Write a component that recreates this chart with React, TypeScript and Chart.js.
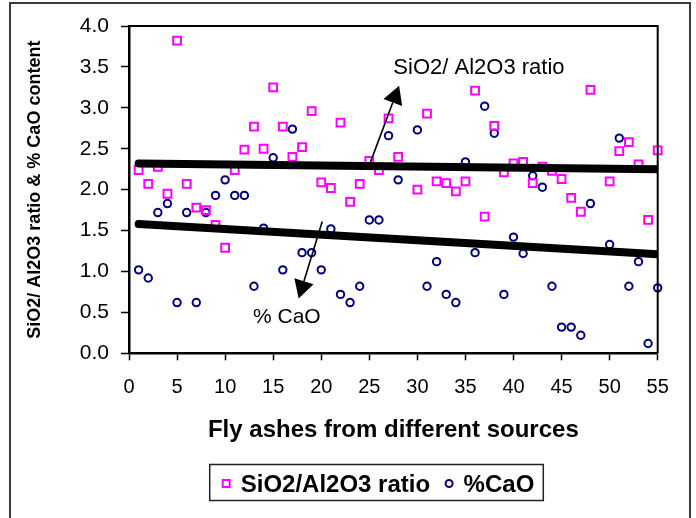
import React, { useEffect, useRef } from "react";
import { Chart, registerables } from "chart.js";

Chart.register(...registerables);

const FONT = "'Liberation Sans', Arial, Helvetica, sans-serif";

// Fly ash source numbers (x categories)
const sourceIds = [
  1, 2, 3, 4, 5, 6, 7, 8, 9, 10, 11, 12, 13, 14, 15, 16, 17, 18, 19, 20,
  21, 22, 23, 24, 25, 26, 27, 28, 29, 30, 31, 32, 33, 34, 35, 36, 37, 38, 39, 40,
  41, 42, 43, 44, 45, 46, 47, 48, 49, 50, 51, 52, 53, 54, 55,
];

// SiO2/Al2O3 ratio per source
const sioRatio = [
  2.24, 2.07, 2.28, 1.95, 3.82, 2.07, 1.78, 1.75, 1.57, 1.29,
  2.24, 2.49, 2.77, 2.5, 3.25, 2.77, 2.4, 2.52, 2.96, 2.09,
  2.02, 2.82, 1.85, 2.07, 2.35, 2.24, 2.87, 2.4, null, 2.0,
  2.93, 2.1, 2.08, 1.98, 2.1, 3.21, 1.67, 2.78, 2.21, 2.32,
  2.34, 2.08, 2.28, 2.23, 2.13, 1.9, 1.73, 3.22, null, 2.1,
  2.47, 2.58, 2.31, 1.63, 2.48,
];

// % CaO per source
const caoPct = [
  1.02, 0.92, 1.72, 1.83, 0.62, 1.72, 0.62, 1.72, 1.93, 2.12,
  1.93, 1.93, 0.82, 1.53, 2.39, 1.02, 2.74, 1.23, 1.23, 1.02,
  1.52, 0.72, 0.62, 0.82, 1.63, 1.63, 2.66, 2.12, null, 2.73,
  0.82, 1.12, 0.72, 0.62, 2.34, 1.23, 3.02, 2.69, 0.72, 1.42,
  1.22, 2.17, 2.03, 0.82, 0.32, 0.32, 0.22, 1.83, null, 1.33,
  2.63, 0.82, 1.12, 0.12, 0.8,
];

// Trend lines (x at ends, y at ends)
const trendX = [1, 55];
const sioTrend = [2.32, 2.25];
const caoTrend = [1.58, 1.21];

// Axis ranges / ticks
const xRange = [0, 55];
const xStep = 5;
const yRange = [0, 4];
const yStep = 0.5;

// Annotations (data coordinates)
const sioArrowFrom = [25.1, 2.33];
const sioArrowTo = [28.1, 3.27];
const sioNote = "SiO2/ Al2O3 ratio";
const sioNoteAt = [27.5, 3.41];
const caoArrowFrom = [20.1, 1.61];
const caoArrowTo = [17.65, 0.67];
const caoNote = "% CaO";
const caoNoteAt = [12.9, 0.37];

const seriesLabels = ["SiO2/Al2O3 ratio", "%CaO"];
const xTitle = "Fly ashes from different sources";
const yTitle = "SiO2/ Al2O3 ratio & % CaO content";

const toPoints = (xs: number[], ys: (number | null)[]) =>
  xs
    .map((x, i) => ({ x, y: ys[i] }))
    .filter((p) => p.y !== null && p.y !== undefined) as { x: number; y: number }[];

const framePlugin = {
  id: "frame",
  beforeDraw(chart: any) {
    const { ctx, width, height } = chart;
    ctx.save();
    ctx.fillStyle = "#ffffff";
    ctx.fillRect(0, 0, width, height);
    ctx.strokeStyle = "#3a3a3a";
    ctx.lineWidth = 2;
    ctx.strokeRect(10, 3, 680, 540);
    ctx.restore();
  },
  afterDraw(chart: any) {
    const { ctx, chartArea } = chart;
    ctx.save();
    ctx.strokeStyle = "#000";
    ctx.lineWidth = 2;
    ctx.beginPath();
    ctx.moveTo(chartArea.left, chartArea.top);
    ctx.lineTo(chartArea.right, chartArea.top);
    ctx.lineTo(chartArea.right, chartArea.bottom);
    ctx.stroke();
    ctx.restore();
  },
};

function drawArrow(ctx: any, x1: number, y1: number, x2: number, y2: number) {
  const ang = Math.atan2(y2 - y1, x2 - x1);
  const len = 18;
  const hw = 10;
  const bx = x2 - len * Math.cos(ang);
  const by = y2 - len * Math.sin(ang);
  ctx.beginPath();
  ctx.moveTo(x1, y1);
  ctx.lineTo(bx, by);
  ctx.stroke();
  ctx.beginPath();
  ctx.moveTo(x2, y2);
  ctx.lineTo(bx + hw * Math.sin(ang), by - hw * Math.cos(ang));
  ctx.lineTo(bx - hw * Math.sin(ang), by + hw * Math.cos(ang));
  ctx.closePath();
  ctx.fill();
}

const notesPlugin = {
  id: "notes",
  afterDatasetsDraw(chart: any) {
    const { ctx } = chart;
    const xs = chart.scales.x;
    const ys = chart.scales.y;
    const px = (p: number[]) => [xs.getPixelForValue(p[0]), ys.getPixelForValue(p[1])];
    ctx.save();
    ctx.strokeStyle = "#000";
    ctx.fillStyle = "#000";
    ctx.lineWidth = 1.6;
    const a1 = px(sioArrowFrom), b1 = px(sioArrowTo);
    drawArrow(ctx, a1[0], a1[1], b1[0], b1[1]);
    const a2 = px(caoArrowFrom), b2 = px(caoArrowTo);
    drawArrow(ctx, a2[0], a2[1], b2[0], b2[1]);
    ctx.font = `22px ${FONT}`;
    ctx.textBaseline = "alphabetic";
    ctx.textAlign = "left";
    const t1 = px(sioNoteAt);
    ctx.fillText(sioNote, t1[0], t1[1]);
    ctx.font = `21px ${FONT}`;
    const t2 = px(caoNoteAt);
    ctx.fillText(caoNote, t2[0], t2[1]);
    ctx.restore();
  },
};

const legendPlugin = {
  id: "boxLegend",
  afterDraw(chart: any) {
    const { ctx } = chart;
    const ds = chart.data.datasets.slice(0, 2);
    ctx.save();
    ctx.font = `bold 24px ${FONT}`;
    const w1 = ctx.measureText(ds[0].label).width;
    const w2 = ctx.measureText(ds[1].label).width;
    const padL = 12, mk = 9, gap = 10, between = 14.5, padR = 9;
    const total = padL + mk + gap + w1 + between + mk + gap + w2 + padR;
    const cx = 376.5;
    const left = cx - total / 2;
    const top = 464.5;
    const h = 36;
    ctx.fillStyle = "#fff";
    ctx.fillRect(left, top, total, h);
    ctx.strokeStyle = "#222";
    ctx.lineWidth = 1.5;
    ctx.strokeRect(left, top, total, h);
    const my = top + 19;
    let x = left + padL;
    ctx.strokeStyle = ds[0].borderColor;
    ctx.lineWidth = 2;
    ctx.strokeRect(x + 1, my - mk / 2 + 1, mk - 2, mk - 2);
    x += mk + gap;
    ctx.fillStyle = "#000";
    ctx.textBaseline = "alphabetic";
    ctx.fillText(ds[0].label, x, top + 27.5);
    x += w1 + between;
    ctx.strokeStyle = ds[1].borderColor;
    ctx.beginPath();
    ctx.arc(x + mk / 2, my, mk / 2 - 1, 0, Math.PI * 2);
    ctx.stroke();
    x += mk + gap;
    ctx.fillText(ds[1].label, x, top + 27.5);
    ctx.restore();
  },
};

export default function App() {
  const ref = useRef<HTMLCanvasElement>(null);

  useEffect(() => {
    if (!ref.current) return;
    const chart = new Chart(ref.current, {
      type: "scatter",
      data: {
        datasets: [
          {
            label: seriesLabels[0],
            data: toPoints(sourceIds, sioRatio),
            pointStyle: "rect",
            pointRadius: 5.5,
            pointHoverRadius: 5.5,
            borderWidth: 2,
            borderColor: "#FF00FF",
            backgroundColor: "rgba(0,0,0,0)",
            order: 2,
            clip: false,
          } as any,
          {
            label: seriesLabels[1],
            data: toPoints(sourceIds, caoPct),
            pointStyle: "circle",
            pointRadius: 3.7,
            pointHoverRadius: 3.7,
            borderWidth: 2,
            borderColor: "#000080",
            backgroundColor: "rgba(0,0,0,0)",
            order: 2,
            clip: false,
          } as any,
          {
            label: "sio-trend",
            data: toPoints(trendX, sioTrend),
            showLine: true,
            pointRadius: 0,
            borderWidth: 8,
            borderColor: "#000",
            borderCapStyle: "round",
            order: 0,
          } as any,
          {
            label: "cao-trend",
            data: toPoints(trendX, caoTrend),
            showLine: true,
            pointRadius: 0,
            borderWidth: 8,
            borderColor: "#000",
            borderCapStyle: "round",
            order: 0,
          } as any,
        ],
      },
      options: {
        responsive: false,
        animation: false,
        devicePixelRatio: 1,
        layout: { padding: { left: 0, top: 26, right: 38.3, bottom: 64.7 } },
        plugins: {
          legend: { display: false },
          tooltip: { enabled: false },
        },
        scales: {
          x: {
            type: "linear",
            min: xRange[0],
            max: xRange[1],
            afterFit: (s: any) => {
              s.height = 100;
            },
            ticks: {
              stepSize: xStep,
              color: "#000",
              font: { family: FONT, size: 20 },
              padding: 15,
            },
            grid: {
              drawOnChartArea: false,
              drawTicks: true,
              tickLength: 7,
              tickColor: "#000",
              tickWidth: 1.5,
            },
            border: { display: true, color: "#000", width: 2.5 },
            title: {
              display: true,
              text: xTitle,
              color: "#000",
              font: { family: FONT, size: 24, weight: "bold" },
              padding: { top: 0, bottom: 9 },
            },
          },
          y: {
            type: "linear",
            min: yRange[0],
            max: yRange[1],
            afterFit: (s: any) => {
              s.width = 129;
            },
            ticks: {
              stepSize: yStep,
              color: "#000",
              font: { family: FONT, size: 21 },
              padding: 12,
              callback: (v: any) => Number(v).toFixed(1),
            },
            grid: {
              drawOnChartArea: false,
              drawTicks: true,
              tickLength: 8,
              tickColor: "#000",
              tickWidth: 1.5,
            },
            border: { display: true, color: "#000", width: 2.5 },
            title: {
              display: true,
              text: yTitle,
              color: "#000",
              font: { family: FONT, size: 18, weight: "bold" },
              padding: { top: 24, bottom: 0 },
            },
          },
        },
      } as any,
      plugins: [framePlugin, notesPlugin, legendPlugin],
    });
    return () => chart.destroy();
  }, []);

  return (
    <div style={{ position: "fixed", left: 0, top: 0, width: 696, height: 518 }}>
      <canvas ref={ref} width={696} height={518} style={{ display: "block" }} />
    </div>
  );
}
